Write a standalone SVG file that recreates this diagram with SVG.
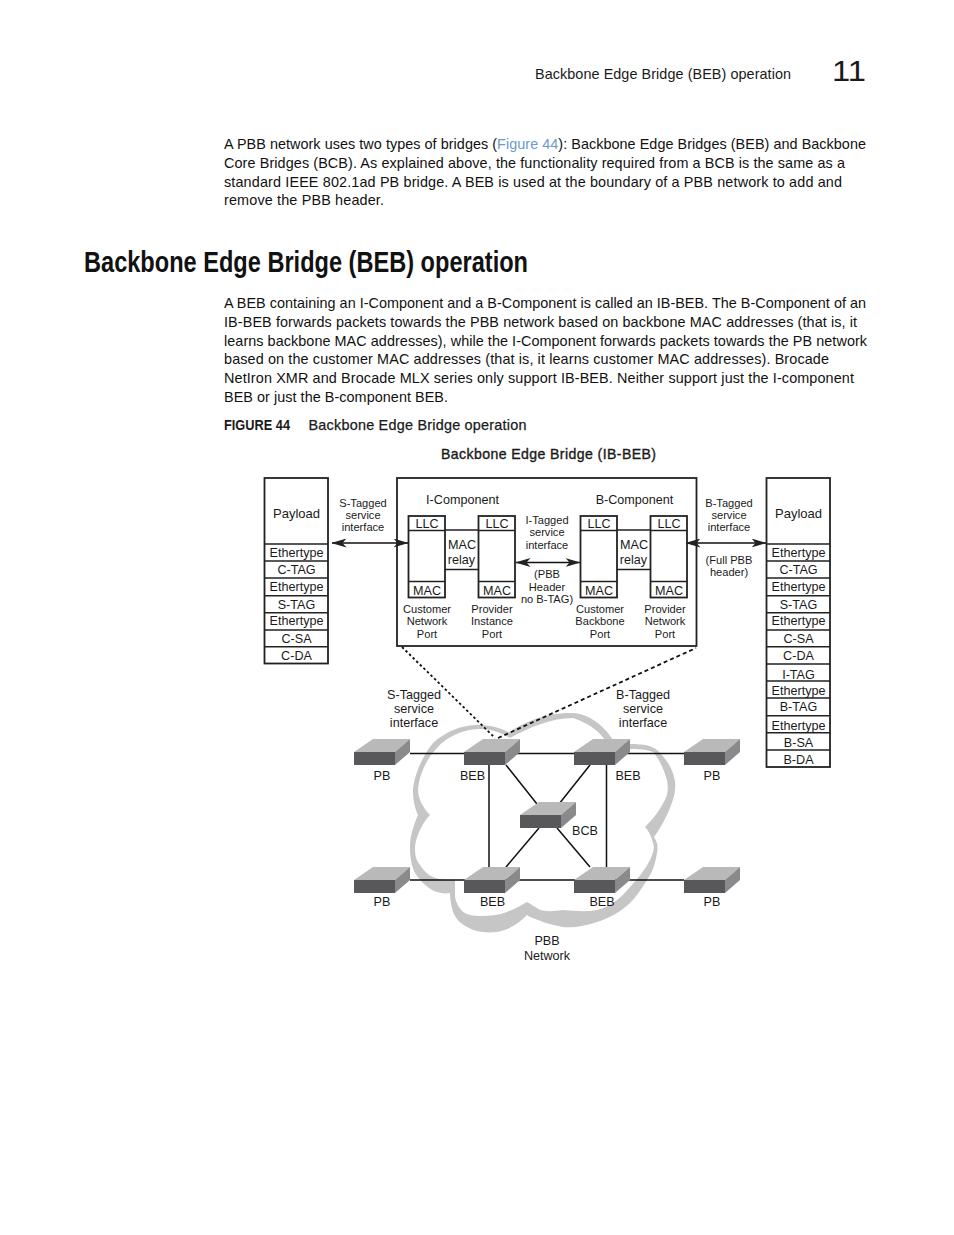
<svg xmlns="http://www.w3.org/2000/svg" width="954" height="1235" viewBox="0 0 954 1235">
<style>
text{font-family:"Liberation Sans",Arial,sans-serif;fill:#1a1a1a}
.b{font-size:14.4px;fill:#111}
.h{font-family:"Liberation Sans Narrow","Liberation Sans",sans-serif;font-size:29px;font-weight:bold;fill:#111}
.d{font-size:12.6px;text-anchor:middle}
.s{font-size:11.1px;text-anchor:middle}
.box{fill:none;stroke:#222;stroke-width:1.4}
.th{fill:none;stroke:#222;stroke-width:1.8}
.ln{fill:none;stroke:#111;stroke-width:1.5}
.dash{fill:none;stroke:#111;stroke-width:1.8}
.t{fill:#b9b9b9}.f{fill:#58585a}.r{fill:#8a8a8c}
</style>
<defs>
<marker id="a" viewBox="0 0 15 9" refX="14.500" refY="4.500" markerWidth="15" markerHeight="9" markerUnits="userSpaceOnUse" orient="auto-start-reverse"><path d="M0 0L15 4.500L0 9L4 4.500Z" fill="#222"/></marker>
<g id="sw"><path class="t" d="M0 13L19 0H56L41 13Z"/><path class="r" d="M41 13L56 0V13L41 26Z"/><rect class="f" y="13" width="41" height="13"/></g>
</defs>
<g id="page-text">
<text x="535" y="79" style="font-size:14.4px" textLength="256">Backbone Edge Bridge (BEB) operation</text>
<text x="832" y="81" style="font-size:30px" textLength="34" lengthAdjust="spacingAndGlyphs">11</text>
<text class="b" x="224" y="149" textLength="642"><tspan>A PBB network uses two types of bridges (</tspan><tspan style="fill:#6a9bd0">Figure 44</tspan><tspan>): Backbone Edge Bridges (BEB) and Backbone</tspan></text>
<text class="b" x="224" y="168" textLength="621">Core Bridges (BCB). As explained above, the functionality required from a BCB is the same as a</text>
<text class="b" x="224" y="187" textLength="618">standard IEEE 802.1ad PB bridge. A BEB is used at the boundary of a PBB network to add and</text>
<text class="b" x="224" y="205" textLength="160">remove the PBB header.</text>
<text class="h" x="84" y="272" textLength="444" lengthAdjust="spacingAndGlyphs">Backbone Edge Bridge (BEB) operation</text>
<text class="b" x="224" y="308" textLength="642">A BEB containing an I-Component and a B-Component is called an IB-BEB. The B-Component of an</text>
<text class="b" x="224" y="327" textLength="633">IB-BEB forwards packets towards the PBB network based on backbone MAC addresses (that is, it</text>
<text class="b" x="224" y="346" textLength="643">learns backbone MAC addresses), while the I-Component forwards packets towards the PB network</text>
<text class="b" x="224" y="364" textLength="605">based on the customer MAC addresses (that is, it learns customer MAC addresses). Brocade</text>
<text class="b" x="224" y="383" textLength="630">NetIron XMR and Brocade MLX series only support IB-BEB. Neither support just the I-component</text>
<text class="b" x="224" y="402" textLength="224">BEB or just the B-component BEB.</text>
<text x="224" y="430" style="font-family:'Liberation Sans Narrow','Liberation Sans',sans-serif;font-size:15.5px;font-weight:bold" textLength="66" lengthAdjust="spacingAndGlyphs">FIGURE 44</text>
<text x="308.500" y="430" style="font-size:14.4px;stroke:#1a1a1a;stroke-width:.25" textLength="218">Backbone Edge Bridge operation</text>
</g>
<g id="cloud">
<path fill="#c6c6c6" d="M507 734C522 722 548 712 573 713C590 714 605 727 613 740L630 744C645 744 652 746 657 750C668 760 677 775 675 790C674 802 664 824 654 837C658 843 658 848 657 853C655 865 652 873 647 880C640 891 636 897 630 903C620 912 610 918 597 922C585 926 575 928 563 927C550 925 538 920 530 917L527 915C520 922 510 930 497 932C488 933 480 932 473 930C462 925 456 920 453 912C451 905 450 899 450 893C445 894 441 893 437 892C428 889 421 882 415 873C411 865 410 856 410 847C410 838 412 829 418 815C414 806 413 798 413 790C414 775 423 755 433 743C447 730 465 724 480 725C492 725 503 729 510 733Z"/>
<path fill="#fff" d="M510 738C500 732 490 729 480 729C465 729 447 736 437 748C427 758 419 775 418 790C418 798 423 808 430 815C424 821 416 835 415 847C415 855 416 860 420 865C424 871 428 875 433 877C440 880 448 880 455 880C455 885 455 891 455 897C456 903 459 908 463 912C468 915 474 916 480 916C490 916 499 915 507 912C515 909 522 905 527 902C531 904 535 907 540 910C548 912 555 911 563 910C575 911 587 912 597 910C605 908 612 904 617 900C622 896 626 892 630 887C638 878 645 870 650 860C653 853 655 848 653 843C651 836 649 831 645 827C652 820 661 810 667 795C668 790 668 785 667 780C664 770 660 760 653 752C645 749 638 749 630 749L605 740C598 730 588 723 573 718C552 718 530 727 510 738Z"/>
</g>
<g id="connectors">
<path class="ln" d="M410 753.500H684M410 880H684"/>
<path class="ln" d="M489 765V867M606.500 765V867M506 765L537 804M590 765L559 804M506 867L539 828M557 828L590 867"/>
<path class="dash" stroke-dasharray="2.500 2.500" d="M402 647L495 738"/>
<path class="dash" stroke-dasharray="4 3" d="M498 738L696 648"/>
<path class="ln" d="M332 543H408" marker-start="url(#a)" marker-end="url(#a)"/>
<path class="ln" d="M516 562.500H580" marker-start="url(#a)" marker-end="url(#a)"/>
<path class="ln" d="M686 543H766" marker-start="url(#a)" marker-end="url(#a)"/>
</g>
<g id="switches">
<use href="#sw" x="354" y="739"/><use href="#sw" x="464" y="739"/><use href="#sw" x="574" y="739"/><use href="#sw" x="684" y="739"/>
<use href="#sw" x="520" y="802"/>
<use href="#sw" x="354" y="867"/><use href="#sw" x="464" y="867"/><use href="#sw" x="574" y="867"/><use href="#sw" x="684" y="867"/>
</g>
<g id="left-frame">
<rect class="th" x="264.500" y="478" width="63.500" height="185.500"/>
<path class="box" d="M264.500 544H328M264.500 561H328M264.500 578H328M264.500 595.700H328M264.500 612.700H328M264.500 630H328M264.500 646.700H328"/>
<text class="d" x="296.500" y="518" style="font-size:13px">Payload</text>
<text class="d" x="296.500" y="557">Ethertype</text><text class="d" x="296.500" y="574">C-TAG</text><text class="d" x="296.500" y="591">Ethertype</text><text class="d" x="296.500" y="609">S-TAG</text><text class="d" x="296.500" y="625">Ethertype</text><text class="d" x="296.500" y="643">C-SA</text><text class="d" x="296.500" y="660">C-DA</text>
</g>
<g id="right-frame">
<rect class="th" x="766.500" y="478" width="63.500" height="289"/>
<path class="box" d="M766.500 544H830M766.500 561H830M766.500 578H830M766.500 595.700H830M766.500 612.700H830M766.500 630H830M766.500 646.700H830M766.500 664H830M766.500 681H830M766.500 698H830M766.500 715.700H830M766.500 732.700H830M766.500 750H830"/>
<text class="d" x="798.500" y="518" style="font-size:13px">Payload</text>
<text class="d" x="798.500" y="557">Ethertype</text><text class="d" x="798.500" y="574">C-TAG</text><text class="d" x="798.500" y="591">Ethertype</text><text class="d" x="798.500" y="609">S-TAG</text><text class="d" x="798.500" y="625">Ethertype</text><text class="d" x="798.500" y="643">C-SA</text><text class="d" x="798.500" y="660">C-DA</text><text class="d" x="798.500" y="679">I-TAG</text><text class="d" x="798.500" y="695">Ethertype</text><text class="d" x="798.500" y="711">B-TAG</text><text class="d" x="798.500" y="730">Ethertype</text><text class="d" x="798.500" y="747">B-SA</text><text class="d" x="798.500" y="764">B-DA</text>
</g>
<g id="ib-beb">
<rect class="th" x="397" y="478" width="299.500" height="168"/>
<text class="d" x="462.500" y="504">I-Component</text>
<text class="d" x="634.500" y="504">B-Component</text>
<g id="i-ports">
<rect class="th" x="408.500" y="516" width="36.500" height="81.500"/><rect class="th" x="478.500" y="516" width="36.500" height="81.500"/>
<path class="box" d="M408.500 530.500H445M408.500 581.500H445M478.500 530.500H515M478.500 581.500H515M445 530H478.500M445 569.500H478.500"/>
<text class="d" x="427" y="528">LLC</text><text class="d" x="497" y="528">LLC</text><text class="d" x="427" y="595">MAC</text><text class="d" x="497" y="595">MAC</text>
<text class="d" x="462" y="548.500">MAC</text><text class="d" x="461.500" y="564">relay</text>
</g>
<g id="b-ports">
<rect class="th" x="580.500" y="516" width="36.500" height="81.500"/><rect class="th" x="650.500" y="516" width="36.500" height="81.500"/>
<path class="box" d="M580.500 530.500H617M580.500 581.500H617M650.500 530.500H687M650.500 581.500H687M617 530H650.500M617 569.500H650.500"/>
<text class="d" x="599" y="528">LLC</text><text class="d" x="669" y="528">LLC</text><text class="d" x="599" y="595">MAC</text><text class="d" x="669" y="595">MAC</text>
<text class="d" x="634" y="548.500">MAC</text><text class="d" x="633.500" y="564">relay</text>
</g>
<text class="s" x="427" y="613">Customer</text><text class="s" x="427" y="625">Network</text><text class="s" x="427" y="638">Port</text>
<text class="s" x="492" y="613">Provider</text><text class="s" x="492" y="625">Instance</text><text class="s" x="492" y="638">Port</text>
<text class="s" x="600" y="613">Customer</text><text class="s" x="600" y="625">Backbone</text><text class="s" x="600" y="638">Port</text>
<text class="s" x="665" y="613">Provider</text><text class="s" x="665" y="625">Network</text><text class="s" x="665" y="638">Port</text>
<text class="s" x="547" y="524">I-Tagged</text><text class="s" x="547" y="536">service</text><text class="s" x="547" y="549">interface</text>
<text class="s" x="547" y="578">(PBB</text><text class="s" x="547" y="591">Header</text><text class="s" x="547" y="603">no B-TAG)</text>
</g>
<g id="labels">
<text x="441" y="459" style="font-size:14.1px;stroke:#1a1a1a;stroke-width:.35" textLength="215">Backbone Edge Bridge (IB-BEB)</text>
<text class="s" x="363" y="507">S-Tagged</text><text class="s" x="363" y="519">service</text><text class="s" x="363" y="531">interface</text>
<text class="s" x="729" y="507">B-Tagged</text><text class="s" x="729" y="519">service</text><text class="s" x="729" y="531">interface</text>
<text class="s" x="729" y="564">(Full PBB</text><text class="s" x="729" y="576">header)</text>
<text class="d" x="414" y="699">S-Tagged</text><text class="d" x="414" y="713">service</text><text class="d" x="414" y="727">interface</text>
<text class="d" x="643" y="699">B-Tagged</text><text class="d" x="643" y="713">service</text><text class="d" x="643" y="727">interface</text>
<text class="d" x="382" y="780">PB</text><text class="d" x="472.500" y="780">BEB</text><text class="d" x="628" y="780">BEB</text><text class="d" x="712" y="780">PB</text>
<text class="d" x="585" y="835">BCB</text>
<text class="d" x="382" y="906">PB</text><text class="d" x="492.500" y="906">BEB</text><text class="d" x="602" y="906">BEB</text><text class="d" x="712" y="906">PB</text>
<text class="d" x="547" y="945">PBB</text><text class="d" x="547" y="960">Network</text>
</g>
</svg>
